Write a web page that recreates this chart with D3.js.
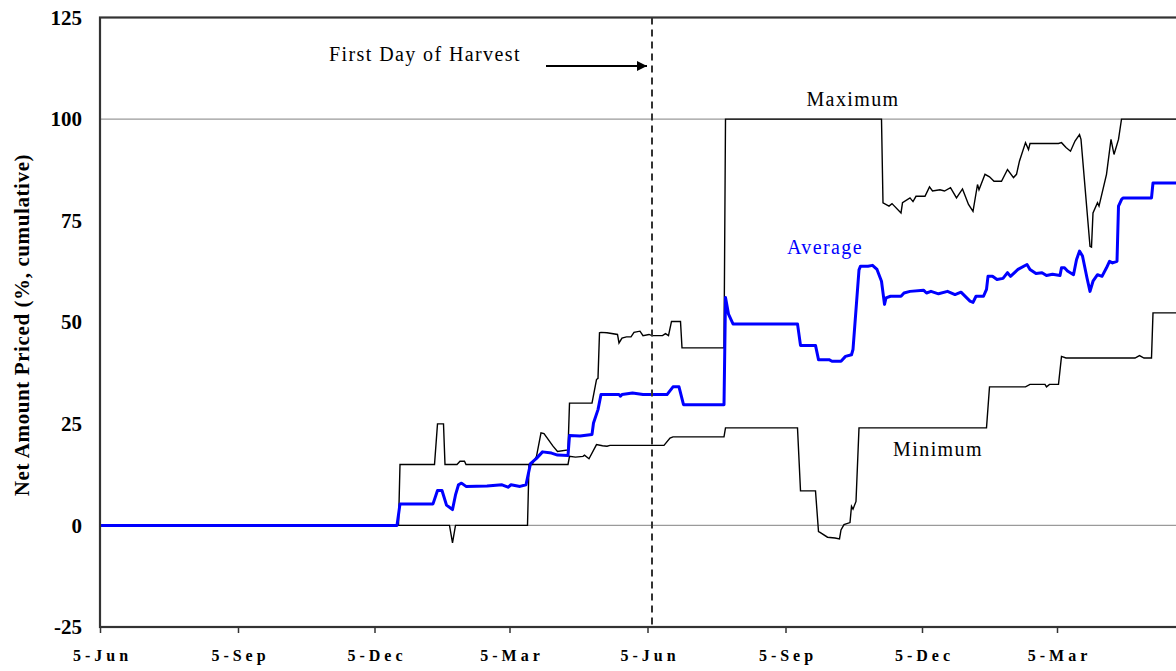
<!DOCTYPE html>
<html>

<head>
  <meta charset="utf-8">
  <title>Net Amount Priced</title>
  <script src="https://cdn.jsdelivr.net/npm/d3@7"></script>
  <style type="text/css">
    body {
      margin: 0;
      background: #fff;
    }

    #chartArea {
      width: 1176px;
      height: 671px;
      overflow: hidden;
    }

    text {
      font-family: "Liberation Serif", "Times New Roman", serif;
    }
  </style>
</head>

<body>
  <div id="chartArea"></div>
  <script type="text/javascript">
    // x axis tick dates (labels read "5-Jun", "5-Sep", ...)
    let tickDates = ['2001-06-05', '2001-09-05', '2001-12-05', '2002-03-05',
      '2002-06-05', '2002-09-05', '2002-12-05', '2003-03-05'];
    let yTicks = [-25, 0, 25, 50, 75, 100, 125];
    let gridValues = [0, 100];
    let harvestDate = '2002-06-08';

    // [date, net amount priced %]
    let maxSeries = [
      ['2001-06-05', 0], ['2001-12-21', 0], ['2001-12-22', 15], ['2002-01-14', 15],
      ['2002-01-16', 25], ['2002-01-20', 25], ['2002-01-21', 15], ['2002-01-29', 15],
      ['2002-01-31', 15.8], ['2002-02-03', 15.8], ['2002-02-04', 15], ['2002-03-20', 15],
      ['2002-03-23', 17], ['2002-03-26', 22.8], ['2002-03-28', 22.6], ['2002-04-03', 19.5],
      ['2002-04-06', 18.2], ['2002-04-13', 18.6], ['2002-04-14', 30.1], ['2002-04-29', 30.1],
      ['2002-05-02', 35.9], ['2002-05-03', 36.2], ['2002-05-04', 47.4], ['2002-05-05', 47.5],
      ['2002-05-09', 47.4], ['2002-05-16', 47.0], ['2002-05-17', 44.9], ['2002-05-19', 46.1],
      ['2002-05-22', 46.4], ['2002-05-25', 46.4], ['2002-05-27', 47.5], ['2002-05-31', 47.8],
      ['2002-06-02', 46.7], ['2002-06-06', 47.0], ['2002-06-08', 46.7], ['2002-06-15', 46.7],
      ['2002-06-17', 47.2], ['2002-06-19', 46.7], ['2002-06-21', 50.2], ['2002-06-27', 50.2],
      ['2002-06-28', 43.7], ['2002-07-26', 43.7], ['2002-07-27', 100], ['2002-11-08', 100],
      ['2002-11-09', 79.4], ['2002-11-13', 78.6], ['2002-11-15', 79.2], ['2002-11-21', 76.9],
      ['2002-11-22', 79.4], ['2002-11-27', 80.6], ['2002-11-29', 79.7], ['2002-12-01', 81.0],
      ['2002-12-07', 81.0], ['2002-12-10', 83.3], ['2002-12-12', 82.3], ['2002-12-17', 82.6],
      ['2002-12-20', 82.3], ['2002-12-24', 83.1], ['2002-12-28', 80.6], ['2003-01-01', 82.8],
      ['2003-01-05', 79.0], ['2003-01-08', 77.3], ['2003-01-11', 83.9], ['2003-01-12', 82.6],
      ['2003-01-16', 86.4], ['2003-01-19', 85.8], ['2003-01-22', 84.7], ['2003-01-27', 84.7],
      ['2003-01-31', 87.6], ['2003-02-04', 85.6], ['2003-02-06', 86.4], ['2003-02-08', 89.7],
      ['2003-02-12', 94.2], ['2003-02-14', 92.5], ['2003-02-15', 94.0], ['2003-03-06', 94.0],
      ['2003-03-08', 94.2], ['2003-03-11', 93.0], ['2003-03-14', 92.1], ['2003-03-17', 94.6],
      ['2003-03-20', 96.2], ['2003-03-21', 95.0], ['2003-03-27', 68.7], ['2003-03-28', 68.5],
      ['2003-03-29', 76.9], ['2003-04-01', 79.4], ['2003-04-02', 78.6], ['2003-04-07', 86.4],
      ['2003-04-10', 95.0], ['2003-04-12', 91.3], ['2003-04-15', 95.0], ['2003-04-17', 100],
      ['2003-05-31', 100]
    ];

    let avgSeries = [
      ['2001-06-05', 0], ['2001-12-20', 0], ['2001-12-22', 5.3], ['2002-01-13', 5.3],
      ['2002-01-16', 8.6], ['2002-01-19', 8.6], ['2002-01-22', 5.0], ['2002-01-26', 3.9],
      ['2002-01-28', 7.5], ['2002-01-30', 10.0], ['2002-02-01', 10.4], ['2002-02-04', 9.6],
      ['2002-02-18', 9.7], ['2002-02-28', 10.0], ['2002-03-04', 9.4], ['2002-03-06', 10.0],
      ['2002-03-12', 9.6], ['2002-03-16', 10.0], ['2002-03-19', 15.2], ['2002-03-23', 16.5],
      ['2002-03-27', 18.1], ['2002-04-02', 17.8], ['2002-04-06', 17.3], ['2002-04-13', 17.2],
      ['2002-04-14', 22.1], ['2002-04-21', 22.0], ['2002-04-29', 22.4], ['2002-04-30', 25.2],
      ['2002-05-03', 28.5], ['2002-05-05', 32.2], ['2002-05-17', 32.2], ['2002-05-18', 31.8],
      ['2002-05-19', 32.2], ['2002-05-26', 32.6], ['2002-06-02', 32.2], ['2002-06-18', 32.2],
      ['2002-06-22', 34.1], ['2002-06-26', 34.1], ['2002-06-29', 29.7], ['2002-07-26', 29.7],
      ['2002-07-27', 56.1], ['2002-07-29', 52.0], ['2002-08-01', 49.6], ['2002-09-13', 49.6],
      ['2002-09-15', 44.3], ['2002-09-25', 44.3], ['2002-09-27', 40.8], ['2002-10-04', 40.8],
      ['2002-10-06', 40.4], ['2002-10-12', 40.4], ['2002-10-15', 41.6], ['2002-10-19', 42.0],
      ['2002-10-20', 43.3], ['2002-10-22', 53.1], ['2002-10-24', 62.9], ['2002-10-25', 63.8],
      ['2002-10-30', 63.8], ['2002-11-02', 64.0], ['2002-11-05', 63.0], ['2002-11-08', 60.1],
      ['2002-11-10', 54.4], ['2002-11-11', 56.0], ['2002-11-14', 56.4], ['2002-11-21', 56.4],
      ['2002-11-23', 57.2], ['2002-11-27', 57.6], ['2002-12-06', 57.9], ['2002-12-08', 57.2],
      ['2002-12-11', 57.6], ['2002-12-16', 57.0], ['2002-12-22', 57.6], ['2002-12-27', 56.8],
      ['2002-12-31', 57.4], ['2003-01-06', 55.2], ['2003-01-08', 54.9], ['2003-01-10', 56.4],
      ['2003-01-15', 56.4], ['2003-01-17', 58.1], ['2003-01-18', 61.3], ['2003-01-21', 61.3],
      ['2003-01-24', 60.5], ['2003-01-28', 60.8], ['2003-01-31', 62.2], ['2003-02-02', 61.3],
      ['2003-02-07', 63.0], ['2003-02-13', 64.2], ['2003-02-15', 63.0], ['2003-02-19', 62.0],
      ['2003-02-23', 62.2], ['2003-02-26', 61.5], ['2003-03-02', 61.8], ['2003-03-07', 61.5],
      ['2003-03-08', 63.4], ['2003-03-10', 63.4], ['2003-03-12', 62.6], ['2003-03-16', 61.7],
      ['2003-03-18', 65.4], ['2003-03-20', 67.5], ['2003-03-22', 66.3], ['2003-03-25', 60.9],
      ['2003-03-27', 57.6], ['2003-03-29', 60.1], ['2003-04-01', 61.7], ['2003-04-04', 61.3],
      ['2003-04-07', 63.4], ['2003-04-09', 65.0], ['2003-04-11', 64.6], ['2003-04-14', 65.0],
      ['2003-04-15', 78.6], ['2003-04-17', 80.2], ['2003-04-18', 80.6], ['2003-05-07', 80.6],
      ['2003-05-08', 84.3], ['2003-05-31', 84.3]
    ];

    let minSeries = [
      ['2001-06-05', 0], ['2002-01-24', 0], ['2002-01-26', -4.3], ['2002-01-28', 0],
      ['2002-03-17', 0], ['2002-03-18', 15], ['2002-04-13', 15], ['2002-04-14', 17.0],
      ['2002-04-18', 16.8], ['2002-04-23', 17.0], ['2002-04-24', 17.3], ['2002-04-27', 16.4],
      ['2002-05-02', 19.9], ['2002-05-06', 19.6], ['2002-05-09', 19.5], ['2002-05-11', 19.7],
      ['2002-06-16', 19.7], ['2002-06-20', 21.5], ['2002-06-22', 21.8], ['2002-07-26', 21.8],
      ['2002-07-27', 24.0], ['2002-09-13', 24.0], ['2002-09-15', 8.5], ['2002-09-25', 8.5],
      ['2002-09-27', -1.5], ['2002-09-28', -1.7], ['2002-10-03', -2.9], ['2002-10-08', -3.1],
      ['2002-10-11', -3.3], ['2002-10-12', -1.1], ['2002-10-14', 0.2], ['2002-10-18', 0.7],
      ['2002-10-19', 4.7], ['2002-10-20', 4.0], ['2002-10-22', 5.9], ['2002-10-24', 24.0],
      ['2003-01-17', 24.0], ['2003-01-19', 34.1], ['2003-02-12', 34.1], ['2003-02-15', 34.7],
      ['2003-02-25', 34.7], ['2003-02-26', 34.1], ['2003-02-28', 34.7], ['2003-03-06', 34.7],
      ['2003-03-08', 41.6], ['2003-03-11', 41.2], ['2003-04-26', 41.2], ['2003-04-29', 41.8],
      ['2003-05-02', 41.2], ['2003-05-07', 41.2], ['2003-05-08', 52.3], ['2003-05-31', 52.3]
    ];

    let parse = d3.timeParse('%Y-%m-%d');

    let margin = { top: 17.5, left: 100, bottom: 627, right: 1189 };

    let xScale = d3.scaleTime()
      .domain([parse('2001-06-05'), parse('2003-06-01')])
      .range([margin.left, margin.right]);

    let yScale = d3.scaleLinear()
      .domain([-25, 125])
      .range([margin.bottom, margin.top]);

    let svg = d3.select('#chartArea').append('svg')
      .attr('width', 1176)
      .attr('height', 671);

    // horizontal gridlines at 0 and 100
    svg.selectAll('.grid')
      .data(gridValues)
      .enter()
      .append('line')
      .attr('class', 'grid')
      .attr('x1', margin.left)
      .attr('x2', margin.right)
      .attr('y1', d => yScale(d))
      .attr('y2', d => yScale(d))
      .attr('stroke', '#9a9a9a')
      .attr('stroke-width', 1.3);

    let line = d3.line()
      .x(d => xScale(parse(d[0])))
      .y(d => yScale(d[1]));

    svg.append('path')
      .datum(maxSeries)
      .attr('d', line)
      .attr('fill', 'none')
      .attr('stroke', '#000')
      .attr('stroke-width', 1.4);

    svg.append('path')
      .datum(minSeries)
      .attr('d', line)
      .attr('fill', 'none')
      .attr('stroke', '#000')
      .attr('stroke-width', 1.4);

    svg.append('path')
      .datum(avgSeries)
      .attr('d', line)
      .attr('fill', 'none')
      .attr('stroke', '#0000ff')
      .attr('stroke-width', 3)
      .attr('stroke-linejoin', 'round');

    // first day of harvest marker
    let hx = xScale(parse(harvestDate));
    svg.append('line')
      .attr('x1', hx)
      .attr('x2', hx)
      .attr('y1', margin.top)
      .attr('y2', margin.bottom)
      .attr('stroke', '#333')
      .attr('stroke-width', 2)
      .attr('stroke-dasharray', '7,5');

    svg.append('defs').append('marker')
      .attr('id', 'arrow')
      .attr('viewBox', '0 0 10 10')
      .attr('refX', 10)
      .attr('refY', 5)
      .attr('markerWidth', 14)
      .attr('markerHeight', 10)
      .attr('markerUnits', 'userSpaceOnUse')
      .attr('orient', 'auto')
      .append('path')
      .attr('d', 'M0,0L10,5L0,10z')
      .attr('fill', '#000');

    svg.append('line')
      .attr('x1', 546)
      .attr('x2', hx - 5)
      .attr('y1', 66)
      .attr('y2', 66)
      .attr('stroke', '#000')
      .attr('stroke-width', 2)
      .attr('marker-end', 'url(#arrow)');

    let labels = [
      { text: 'First Day of Harvest', x: 425, y: 61, color: '#000' },
      { text: 'Maximum', x: 853, y: 106, color: '#000' },
      { text: 'Average', x: 825, y: 254, color: '#0000ff' },
      { text: 'Minimum', x: 938, y: 456, color: '#000' }
    ];

    svg.selectAll('.note')
      .data(labels)
      .enter()
      .append('text')
      .attr('class', 'note')
      .attr('x', d => d.x)
      .attr('y', d => d.y)
      .attr('text-anchor', 'middle')
      .attr('font-size', 20)
      .attr('letter-spacing', 1.4)
      .attr('fill', d => d.color)
      .text(d => d.text);

    // plot frame
    svg.append('rect')
      .attr('x', margin.left)
      .attr('y', margin.top)
      .attr('width', margin.right - margin.left)
      .attr('height', margin.bottom - margin.top)
      .attr('fill', 'none')
      .attr('stroke', '#333')
      .attr('stroke-width', 2.2);

    let xAxis = d3.axisBottom(xScale)
      .tickValues(tickDates.map(parse))
      .tickFormat(d3.timeFormat('%-d-%b'))
      .tickSize(6)
      .tickPadding(17);

    let gx = svg.append('g')
      .attr('transform', `translate(0, ${margin.bottom})`)
      .call(xAxis);
    gx.select('.domain').remove();
    gx.selectAll('.tick line').attr('stroke', '#333').attr('stroke-width', 1.5);
    gx.selectAll('.tick text')
      .attr('font-family', '"Liberation Serif", "Times New Roman", serif')
      .attr('font-size', 16)
      .attr('font-weight', 'bold')
      .attr('letter-spacing', 4)
      .attr('dx', 2)
      .attr('fill', '#000');

    let yAxis = d3.axisLeft(yScale)
      .tickValues(yTicks)
      .tickFormat(d => String(d))
      .tickSize(0)
      .tickPadding(18);

    let gy = svg.append('g')
      .attr('transform', `translate(${margin.left}, 0)`)
      .call(yAxis);
    gy.select('.domain').remove();
    gy.selectAll('.tick text')
      .attr('font-family', '"Liberation Serif", "Times New Roman", serif')
      .attr('font-size', 21)
      .attr('font-weight', 'bold')
      .attr('fill', '#000');

    svg.append('text')
      .attr('transform', 'translate(29, 325) rotate(-90)')
      .attr('text-anchor', 'middle')
      .attr('font-size', 21)
      .attr('font-weight', 'bold')
      .attr('letter-spacing', 0.6)
      .text('Net Amount Priced (%, cumulative)');

  </script>
</body>

</html>
